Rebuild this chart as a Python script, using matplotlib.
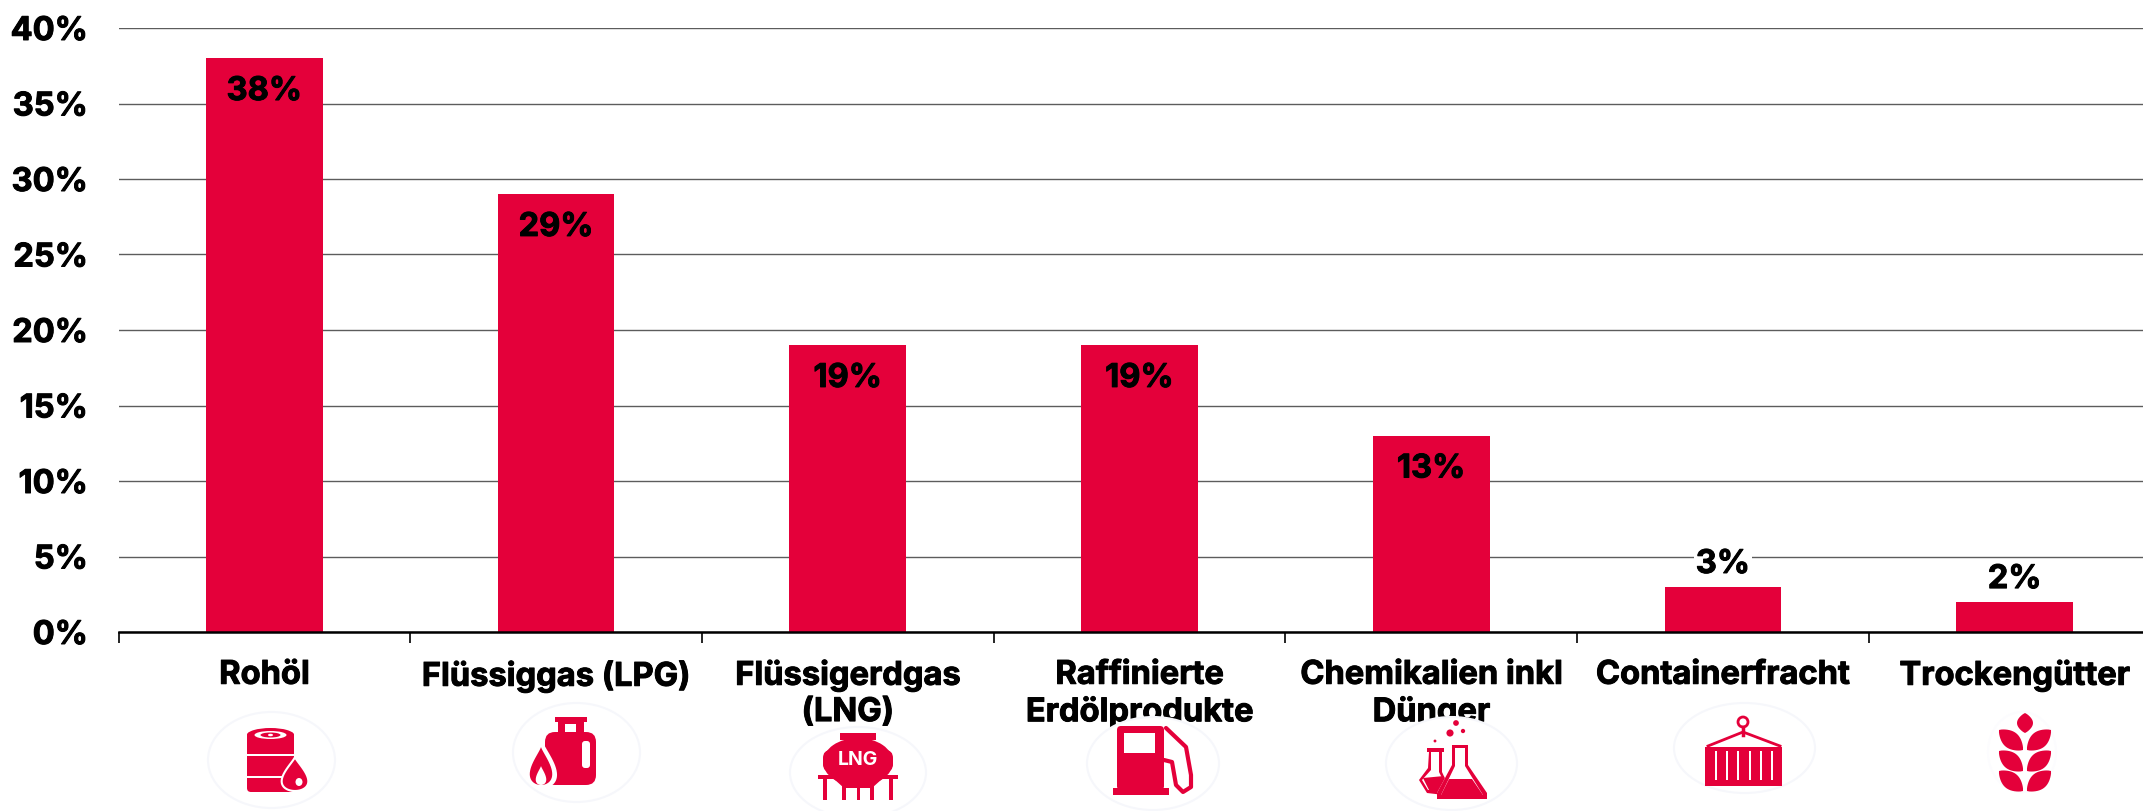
import numpy as np
import matplotlib
matplotlib.use('Agg')
import matplotlib.pyplot as plt
import matplotlib.patheffects as pe
from matplotlib.patches import Ellipse, Rectangle, Polygon, FancyBboxPatch, Circle

categories = ['Rohöl', 'Flüssiggas (LPG)', 'Flüssigerdgas\n(LNG)', 'Raffinierte\nErdölprodukte',
              'Chemikalien inkl\nDünger', 'Containerfracht', 'Trockengütter']
values = [38, 29, 19, 19, 13, 3, 2]
yticks = [0, 5, 10, 15, 20, 25, 30, 35, 40]

W, H = 2143, 811
RED = '#E4003A'
plt.rcParams['font.family'] = ['Inter', 'DejaVu Sans']
plt.rcParams['font.weight'] = 'bold'
FS = 23.5
# the original face is a bit heavier than Inter Bold
heavy = [pe.withStroke(linewidth=0.7, foreground='black')]

fig = plt.figure(figsize=(W/100, H/100), dpi=100, facecolor='white')
# axis runs past the right edge of the picture, like the original crop
ax = fig.add_axes([118.5/W, 1-632/H, 2042/W, 604/H])
x = np.arange(len(categories))
ax.bar(x, values, width=0.4, color=RED, zorder=3)
ax.set_xlim(-0.5, 6.5)
ax.set_ylim(0, 40)
ax.set_yticks(yticks)
ax.set_yticklabels([f'{v}%' for v in yticks], fontsize=FS, color='black', va='center_baseline', path_effects=heavy)
ax.tick_params(axis='y', length=0, pad=22)
ax.yaxis.grid(True, color='#5c5c5c', linewidth=1.0, zorder=1)
ax.set_axisbelow(True)
for s in ['top', 'left', 'right']:
    ax.spines[s].set_visible(False)
ax.spines['bottom'].set_linewidth(1.8)
ax.spines['bottom'].set_zorder(5)
ax.set_xticks(x - 0.5)
ax.set_xticklabels([])
ax.tick_params(axis='x', which='major', length=8, width=1.2, color='black')
ax.set_xticks(x, minor=True)
ax.set_xticklabels(categories, minor=True, fontsize=FS, linespacing=1.22, va='top', path_effects=heavy)
ax.tick_params(axis='x', which='minor', length=0, pad=20)

for xi, v in zip(x, values):
    if v > 5:
        ax.annotate(f'{v}%', (xi, v), xytext=(0, -24), textcoords='offset points', ha='center', va='center',
                    fontsize=FS, color='black', zorder=6, path_effects=heavy)
    else:
        ax.annotate(f'{v}%', (xi, v), xytext=(0, 16), textcoords='offset points', ha='center', va='center',
                    fontsize=FS, color='black', zorder=6, path_effects=heavy,
                    bbox=dict(facecolor='white', edgecolor='none', pad=1.5))

# icons, drawn in picture pixels on an overlay
ov = fig.add_axes([0, 0, 1, 1], zorder=10)
ov.set_xlim(0, W)
ov.set_ylim(H, 0)
ov.axis('off')
ov.patch.set_alpha(0)


def badge(x0, x1, y0, y1, edge='#f6f7fb'):
    ov.add_patch(Ellipse(((x0+x1)/2, (y0+y1)/2), x1-x0, y1-y0, fc='white', ec=edge, lw=1.5, zorder=1))


def rect(x, y, w, h, c=RED, r=0, z=2):
    if r:
        ov.add_patch(FancyBboxPatch((x+r, y+r), w-2*r, h-2*r, boxstyle=f'round,pad={r}', fc=c, ec='none', zorder=z))
    else:
        ov.add_patch(Rectangle((x, y), w, h, fc=c, ec='none', zorder=z))


def poly(pts, c=RED, z=2):
    ov.add_patch(Polygon(pts, closed=True, fc=c, ec='none', zorder=z))


def ell(cx, cy, w, h, c=RED, z=2):
    ov.add_patch(Ellipse((cx, cy), w, h, fc=c, ec='none', zorder=z))


def drop(cx, top, w, h, c=RED, z=3, ec='none', lw=0):
    t = np.linspace(0, 2*np.pi, 60)
    px = cx + w/2*np.sin(t)*np.sin(t/2)**1.5
    py = top + h*(1-np.cos(t))/2
    ov.add_patch(Polygon(np.c_[px, py], closed=True, fc=c, ec=ec, lw=lw, zorder=z))


def leaf(x0, y0, x1, y1, wd, c=RED, z=2):
    # pointed leaf from tip (x0, y0) to base (x1, y1)
    s = np.linspace(0, 1, 20)
    dx, dy = x1-x0, y1-y0
    n = np.hypot(dx, dy)
    nx, ny = -dy/n, dx/n
    b = wd/2*np.sin(np.pi*s)**0.8
    pts = np.r_[np.c_[x0+dx*s+nx*b, y0+dy*s+ny*b], np.c_[x0+dx*s-nx*b, y0+dy*s-ny*b][::-1]]
    poly(pts, c, z)


# oil barrel
badge(208, 335, 712, 808)
rect(247, 732, 47, 60, r=4)
ell(270.5, 735, 47, 14)
ell(270.5, 735, 32, 8, 'white', 3)
ell(270.5, 735, 20, 5, RED, 3)
ell(270.5, 735, 5, 2.5, 'white', 4)
rect(247, 754, 47, 1.8, 'white')
rect(247, 776, 47, 1.8, 'white')
drop(295, 757, 38, 34, RED, 3, 'white', 1.5)
ell(299, 782, 7, 8, 'white', 4)

# gas bottle with flame
badge(513, 640, 703, 802)
rect(555, 717, 32, 5)
rect(558, 722, 26, 14)
rect(565, 724, 11, 8, 'white', z=3)
rect(545, 732, 51, 53, r=10)
rect(582, 741, 8, 27, 'white', 3, z=3)
drop(543, 742, 40, 46, 'white', 3)
drop(541, 747, 32, 38, RED, 4)
drop(541, 766, 15, 19, 'white', 5)

# LNG tank
badge(790, 926, 727, 818)
rect(840, 733, 36, 7)
ell(858, 762, 70, 48)
rect(823, 750, 70, 22, r=8)
ov.text(858, 760, 'LNG', color='white', fontsize=14, ha='center', va='center', zorder=4)
rect(818, 775, 80, 4)
poly([(834, 779), (882, 779), (872, 788), (844, 788)])
for xp in [823, 842, 870, 889]:
    rect(xp, 779, 4, 21)
rect(857, 786, 3, 14)

# fuel pump
badge(1087, 1219, 717, 810)
rect(1117, 726, 47, 64, r=4)
rect(1124, 733, 31, 20, 'white', z=3)
rect(1113, 788, 56, 7)
ov.plot([1166, 1186, 1191, 1191, 1183, 1176, 1172, 1164], [728, 747, 775, 787, 792, 785, 762, 760],
        color=RED, lw=3, zorder=3, solid_capstyle='round')

# flasks
badge(1386, 1517, 717, 810)
for cxp, cyp, s in [(1456, 723, 4), (1450, 733, 5), (1463, 731, 3), (1435, 741, 2)]:
    ov.add_patch(Circle((cxp, cyp), s/1.4, fc=RED, ec='none', zorder=3))
poly([(1427, 748), (1444, 748), (1444, 752), (1442, 752), (1442, 772), (1448, 785), (1444, 795), (1427, 793), (1419, 780), (1428, 768), (1429, 752), (1427, 752)], RED, 2)
poly([(1431, 752), (1439, 752), (1439, 772), (1445, 784), (1442, 790), (1428, 790), (1422, 780), (1431, 770)], 'white', 3)
poly([(1423, 778), (1444, 776), (1445, 784), (1441, 790), (1429, 790)], RED, 3)
poly([(1450, 743), (1470, 743), (1470, 747), (1468, 747), (1468, 765), (1487, 793), (1487, 799), (1437, 799), (1437, 793), (1452, 765), (1452, 747), (1450, 747)], 'white', 4)
poly([(1452, 745), (1468, 745), (1468, 765), (1487, 793), (1487, 799), (1437, 799), (1437, 793), (1452, 765)], RED, 4)
poly([(1455, 748), (1465, 748), (1465, 766), (1483, 795), (1441, 795), (1455, 766)], 'white', 5)
poly([(1449, 779), (1472, 779), (1483, 795), (1441, 795)], RED, 6)

# container on hook
badge(1674, 1815, 703, 793)
ov.add_patch(Circle((1743, 722), 5, fc='white', ec=RED, lw=2, zorder=3))
ov.plot([1743, 1743], [727, 735], color=RED, lw=2.5, zorder=3)
ov.plot([1708, 1743, 1780], [746, 732, 746], color=RED, lw=2, zorder=3)
rect(1705, 747, 77, 39)
for xp in np.linspace(1715, 1771, 6):
    rect(xp, 751, 2, 29, 'white')

# wheat
badge(1988, 2056, 712, 792, '#fcfcfe')
leaf(2025, 713, 2025, 733, 16)
for yt in [730, 751, 771]:
    leaf(2051, yt, 2027, yt+20, 17)
    leaf(1999, yt, 2023, yt+20, 17)

fig.savefig('out.png', dpi=100)
